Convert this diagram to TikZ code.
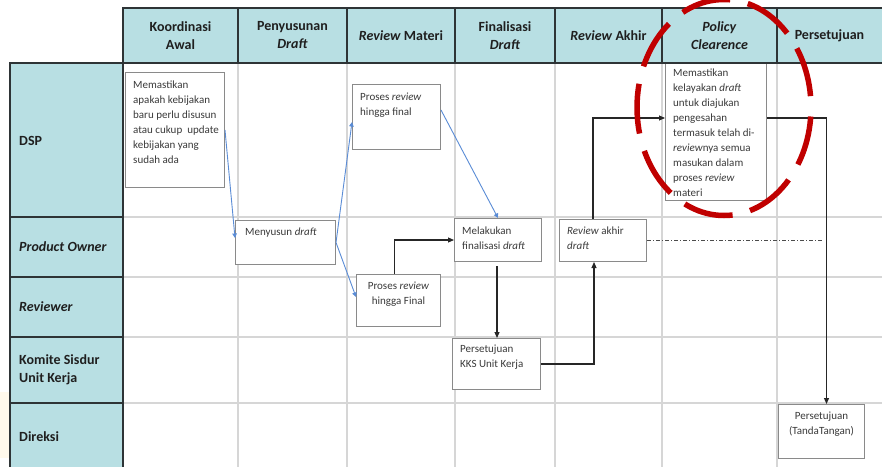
\documentclass[tikz,border=0pt]{standalone}
\usepackage{fontspec}
\setmainfont{Carlito}
\usetikzlibrary{calc,arrows.meta}
\definecolor{hdrfill}{HTML}{B8DFE3}
\definecolor{hdrline}{HTML}{2E3436}
\definecolor{gridline}{HTML}{D6D6D6}
\definecolor{boxline}{HTML}{8A8A8A}
\definecolor{boxtext}{HTML}{3A3A3A}
\definecolor{flowblue}{HTML}{5A8CD6}
\definecolor{flowdark}{HTML}{262626}
\definecolor{markred}{HTML}{C00000}
\definecolor{paleyellow}{HTML}{FFF9EC}
\begin{document}
\begin{tikzpicture}[x=1pt,y=-1pt,
  hdrcell/.style={draw=hdrline, line width=1.3pt, fill=hdrfill},
  hdrtext/.style={font=\fontsize{14}{18}\selectfont\bfseries, align=center, text=black!88, inner sep=0},
  lanetext/.style={font=\fontsize{14}{18}\selectfont\bfseries, align=left, anchor=west, text=black!88, inner sep=0},
  stepbox/.style={draw=boxline, line width=1pt, fill=white, anchor=north west, inner sep=0},
  boxtxt/.style={font=\fontsize{11}{15}\selectfont, text=boxtext, anchor=north west, align=left, inner xsep=8pt, inner ysep=7.5pt},
  boxtxtc/.style={font=\fontsize{11}{15}\selectfont, text=boxtext, anchor=north, align=center, inner xsep=0pt, inner ysep=7.5pt},
  blueflow/.style={draw=flowblue, line width=0.9pt, -{Triangle[length=4.5pt,width=4.5pt]}},
  darkflow/.style={draw=flowdark, line width=1.1pt, -{Triangle[length=6pt,width=5pt]}},
  dashflow/.style={draw=black!70, line width=0.8pt, dash pattern=on 4pt off 2pt on 1pt off 2pt},
]
\useasboundingbox (0,0) rectangle (882,466);
\fill[white] (0,0) rectangle (882,466);
\fill[paleyellow] (0,392) rectangle (10,458);

% body grid
\foreach \gx in {238,347,455,555,662,777}
  \draw[gridline, line width=1.4pt] (\gx,63) -- (\gx,470);
\foreach \gy in {217,277,337,403}
  \draw[gridline, line width=1.4pt] (123,\gy) -- (884,\gy);

% column headers
\foreach \xa/\xb in {123/238,238/347,347/455,455/555,555/662,662/777,777/884}
  \draw[hdrcell] (\xa,8) rectangle (\xb,63);

% lane header column
\fill[hdrfill] (10,63) rectangle (123,470);
\draw[hdrline, line width=1.3pt] (10,470) -- (10,63) -- (123,63) -- (123,470);
\foreach \gy in {217,277,337,403}
  \draw[hdrline, line width=1.3pt] (10,\gy) -- (123,\gy);

% header labels
\node[hdrtext] (hKoord) at (180.5,35.5) {Koordinasi\\Awal};
\node[hdrtext] (hSusun) at (292.5,35.5) {Penyusunan\\\textit{Draft}};
\node[hdrtext] (hMateri) at (401,35.5) {\textit{Review} Materi};
\node[hdrtext] (hFinal) at (505,35.5) {Finalisasi\\\textit{Draft}};
\node[hdrtext] (hAkhir) at (608.5,35.5) {\textit{Review} Akhir};
\node[hdrtext] (hPolicy) at (719.5,35.5) {\textit{Policy}\\\textit{Clearence}};
\node[hdrtext] (hSetuju) at (829.5,35.5) {Persetujuan};

% lane labels
\node[lanetext] (lDSP) at (19,141) {DSP};
\node[lanetext] (lPO) at (19,247) {\textit{Product Owner}};
\node[lanetext] (lRev) at (19,307) {\textit{Reviewer}};
\node[lanetext] (lKom) at (19,370) {Komite Sisdur\\Unit Kerja};
\node[lanetext] (lDir) at (19,437) {Direksi};

% process boxes
\node[stepbox, minimum width=99, minimum height=115] (b1) at (125,72) {};
\node[boxtxt, inner ysep=9pt] (b1t) at (b1.north west) {Memastikan\\apakah kebijakan\\baru perlu disusun\\atau cukup\ \ update\\kebijakan yang\\sudah ada};

\node[stepbox, minimum width=88, minimum height=65] (b2) at (352,84) {};
\node[boxtxt, inner ysep=8.5pt] (b2t) at (b2.north west) {Proses \textit{review}\\hingga final};

\node[stepbox, minimum width=101, minimum height=137] (b3) at (665,63) {};
\node[boxtxt, inner ysep=6pt] (b3t) at (b3.north west) {Memastikan\\kelayakan \textit{draft}\\untuk diajukan\\pengesahan\\termasuk telah di-\\\textit{review}nya semua\\masukan dalam\\proses \textit{review}\\materi};

\node[stepbox, minimum width=100, minimum height=44] (b4) at (235,220) {};
\node[boxtxt, inner xsep=10pt] (b4t) at (b4.north west) {Menyusun \textit{draft}};

\node[stepbox, minimum width=84, minimum height=52] (b5) at (356,274) {};
\node[boxtxtc] (b5t) at (b5.north) {Proses \textit{review}\\hingga Final};

\node[stepbox, minimum width=87, minimum height=43] (b6) at (454,218) {};
\node[boxtxt, inner ysep=8.5pt] (b6t) at (b6.north west) {Melakukan\\finalisasi \textit{draft}};

\node[stepbox, minimum width=87, minimum height=42] (b7) at (559,219) {};
\node[boxtxt] (b7t) at (b7.north west) {\textit{Review} akhir\\\textit{draft}};

\node[stepbox, minimum width=88, minimum height=51] (b8) at (452,338) {};
\node[boxtxt, inner ysep=6.5pt] (b8t) at (b8.north west) {Persetujuan\\KKS Unit Kerja};

\node[stepbox, minimum width=86, minimum height=54] (b9) at (778,404) {};
\node[boxtxtc] (b9t) at (b9.north) {Persetujuan\\(TandaTangan)};

% redraw header bottom edge over the policy box top
\draw[hdrline, line width=1.3pt] (123,63) -- (884,63);

% blue flows
\draw[blueflow] (b1.east) -- ($(b4.north west)+(0,18)$);
\draw[blueflow] (b4.east) -- ($(b2.north west)+(0,38)$);
\draw[blueflow] (b4.east) -- ($(b5.north west)+(0,23)$);
\draw[blueflow] ($(b2.north east)+(0,26)$) -- (b6.north);

% dark flows
\draw[darkflow] ($(b5.north)+(-4,0)$) |- (b6.west);
\draw[darkflow] ($(b6.south)+(-1,4)$) -- ($(b6.south |- b8.north)+(-1,0)$);
\draw[darkflow] (b8.east) -| ($(b7.south)+(-9,0)$);
\draw[darkflow] ($(b7.north)+(-10,0)$) |- ($(b3.north west)+(0,55)$);
\draw[darkflow] ($(b3.north east)+(0,55)$) -| ($(b9.north)+(5,0)$);

% dash-dot link from final review toward approval line
\coordinate (dashEnd) at (823,240);
\draw[dashflow] ($(b7.north east)+(0,21)$) -- (dashEnd);

% highlight ring around the policy column
\draw[markred, line width=5.5pt, dash pattern=on 50pt off 18pt, dash phase=59pt]
  (724,107.5) ellipse [x radius=87, y radius=108];
\end{tikzpicture}
\end{document}
